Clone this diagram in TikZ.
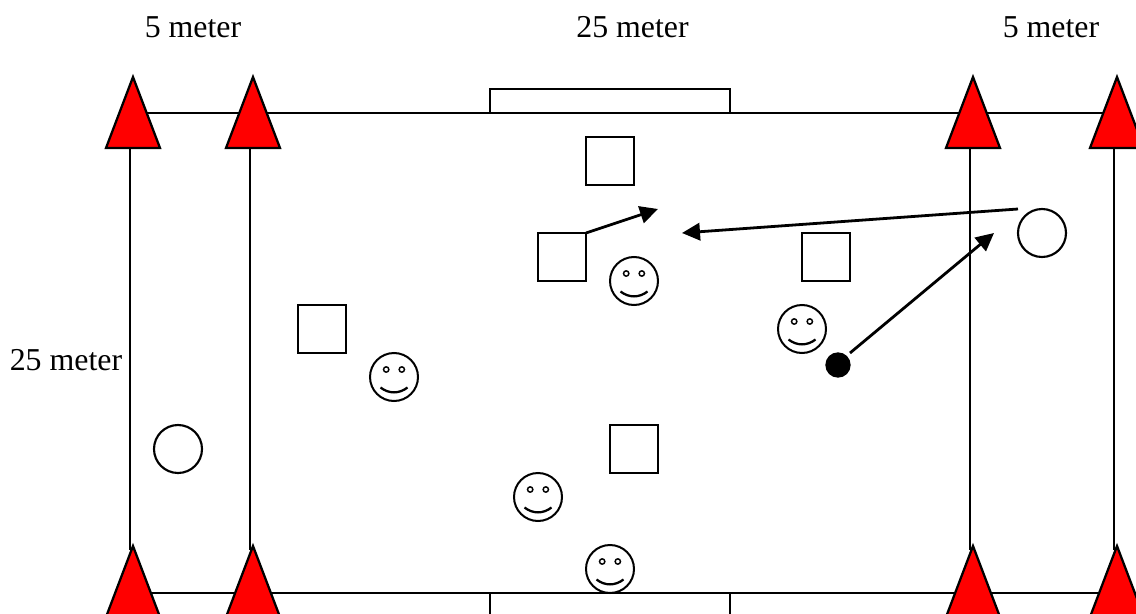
\documentclass[tikz,border=0pt]{standalone}
\usepackage{fontspec}
\setmainfont{Liberation Serif}
\usetikzlibrary{arrows.meta}
\definecolor{conered}{HTML}{FF0000}
\tikzset{
  fieldline/.style={black,line width=1.7pt},
  movearrow/.style={black,line width=2.1pt,-{Triangle[length=13.5pt,width=13pt]}},
  playerbox/.style={draw,line width=1.7pt,minimum size=36pt,inner sep=0pt,outer sep=0pt},
  keeper/.style={draw,circle,line width=1.6pt,minimum size=36pt,inner sep=0pt,outer sep=0pt},
  ballc/.style={circle,fill=black,minimum size=19pt,inner sep=0pt,outer sep=0pt},
  dist/.style={font=\fontsize{23.9}{28}\selectfont,inner sep=0pt},
  cone/.pic={\filldraw[fill=conered,draw=black,line width=1.7pt,line join=miter] (0,1) -- (27,72) -- (-27,72) -- cycle;},
  smiley/.pic={
    \draw[line width=1.5pt] (0,0) circle (18pt);
    \draw[line width=1.1pt] (-7.8,-7.5) circle (2pt) (7.8,-7.5) circle (2pt);
    \draw[line width=1.7pt] (-13.5,10.5) .. controls (-5,17) and (5,17) .. (13.5,10.5);
  }
}
\begin{document}
\begin{tikzpicture}[x=0.75pt,y=-0.75pt]
  \path[use as bounding box,clip] (0,0) rectangle (1136,614);

  % Field outline and goals
  \draw[fieldline] (133,113) -- (1117,113);
  \draw[fieldline] (133,593) -- (1117,593);
  \draw[fieldline] (490,113) -- (490,89) -- (730,89) -- (730,113);
  \draw[fieldline] (490,593) -- (490,620) (730,593) -- (730,620);

  % Zone lines
  \foreach \x in {130,250,970,1114}
    \draw[fieldline] (\x,148) -- (\x,550);

  % Cones
  \foreach \x in {133,253,973,1117} {
    \pic at (\x,76) {cone};
    \pic at (\x,545) {cone};
  }

  % Distances
  \node[dist] (lblA) at (193,27) {5 meter};
  \node[dist] (lblB) at (632.5,27) {25 meter};
  \node[dist] (lblC) at (1051,27) {5 meter};
  \node[dist] (lblD) at (66,360) {25 meter};

  % Squares
  \node[playerbox] (boxA) at (610,161) {};
  \node[playerbox] (boxB) at (562,257) {};
  \node[playerbox] (boxC) at (826,257) {};
  \node[playerbox] (boxD) at (322,329) {};
  \node[playerbox] (boxE) at (634,449) {};

  % Keepers and ball
  \node[keeper] (keepR) at (1042,233) {};
  \node[keeper] (keepL) at (178,449) {};
  \node[ballc] (ball) at (838,365) {};

  % Smileys
  \pic at (634,281) {smiley};
  \pic at (802,329) {smiley};
  \pic at (394,377) {smiley};
  \pic at (538,497) {smiley};
  \pic at (610,569) {smiley};

  % Runs and passes
  \coordinate (endA) at (658,209);
  \coordinate (startB) at (1018,209);
  \coordinate (endB) at (682,233);
  \coordinate (startC) at (850,353);
  \coordinate (endC) at (994,233);
  \draw[movearrow] (boxB.north east) -- (endA);
  \draw[movearrow] (startB) -- (endB);
  \draw[movearrow] (startC) -- (endC);
\end{tikzpicture}
\end{document}
